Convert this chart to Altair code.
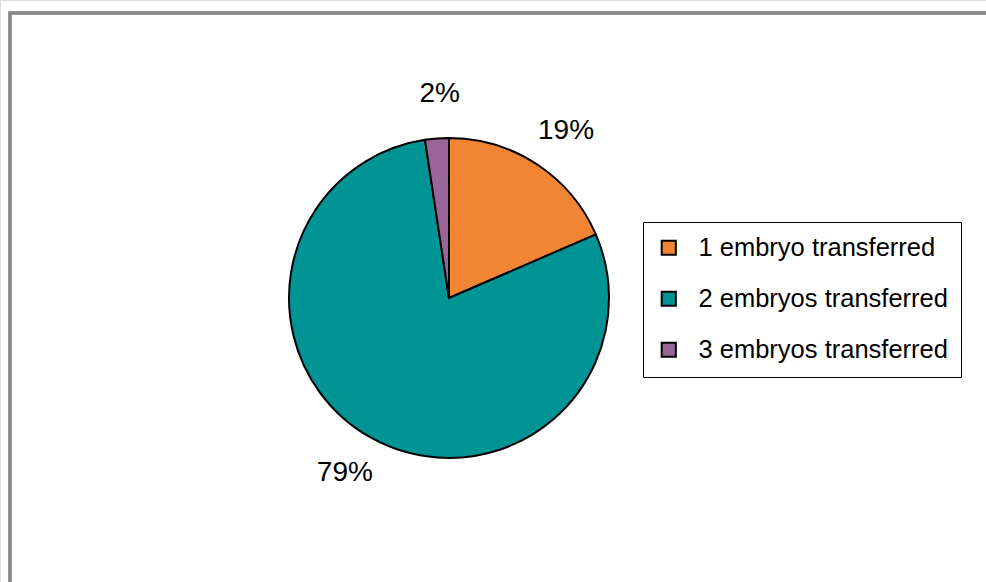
import altair as alt
import pandas as pd

categories = ["1 embryo transferred", "2 embryos transferred", "3 embryos transferred"]
values = [18.5, 79.1, 2.4]
labels = ["19%", "79%", "2%"]
colors = ["#F28533", "#009494", "#9A6699"]

df = pd.DataFrame({"cat": categories, "val": values, "lab": labels, "order": [0, 1, 2]})

base = alt.Chart(df).encode(
    theta=alt.Theta("val:Q", stack=True),
    order=alt.Order("order:Q"),
)

pie = base.mark_arc(outerRadius=160, stroke="black", strokeWidth=2).encode(
    x=alt.value(449),
    y=alt.value(298),
    color=alt.Color(
        "cat:N",
        sort=categories,
        scale=alt.Scale(domain=categories, range=colors),
        legend=alt.Legend(
            title=None,
            orient="none",
            legendX=643,
            legendY=222,
            padding=13,
            strokeColor="black",
            fillColor="white",
            symbolType="square",
            symbolSize=200,
            symbolStrokeColor="black",
            symbolStrokeWidth=2,
            labelFontSize=25.5,
            labelFont="Liberation Sans",
            labelColor="black",
            labelOffset=17,
            labelLimit=0,
            rowPadding=24,
        ),
    ),
)

text = base.mark_text(
    radius=204, thetaOffset=0.03, fontSize=28, font="Liberation Sans", color="black"
).encode(x=alt.value(449), y=alt.value(298), text="lab:N")

frame = alt.Chart(df).mark_rect(
    fill="white", fillOpacity=0, stroke="#888888", strokeWidth=3
).encode(
    x=alt.value(10), x2=alt.value(1100), y=alt.value(13), y2=alt.value(700)
)

chart = alt.layer(frame, pie, text).properties(
    width=986, height=582, autosize=alt.AutoSizeParams(type="none"), padding=0
).configure_view(stroke=None).configure(background="white")

chart.save("out.html", embed_options={"renderer": "svg", "actions": False})
